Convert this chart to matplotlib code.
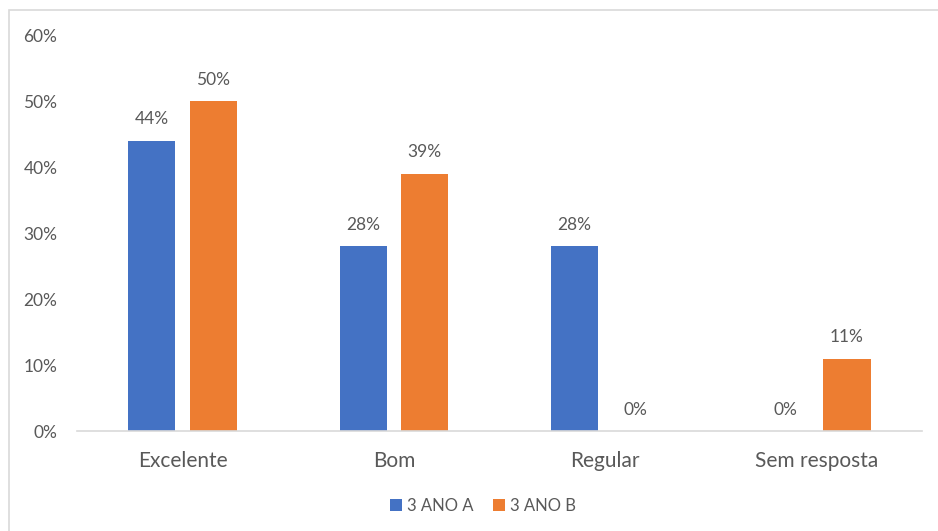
import matplotlib
matplotlib.use('Agg')
import matplotlib.pyplot as plt
import numpy as np
from matplotlib.patches import Rectangle

categories = ['Excelente', 'Bom', 'Regular', 'Sem resposta']
series_names = ['3 ANO A', '3 ANO B']
ano_a = [44, 28, 28, 0]
ano_b = [50, 39, 0, 11]
y_ticks = [0, 10, 20, 30, 40, 50, 60]

colors = ['#4472C4', '#ED7D31']
text_color = '#595959'

plt.rcParams['font.family'] = ['Lato', 'DejaVu Sans']

fig = plt.figure(figsize=(9.38, 5.31), dpi=100, facecolor='white')
ax = fig.add_axes([0.082, 0.188, 0.901, 0.746])

x = np.arange(len(categories))
width = 0.223
offset = 0.145

for vals, name, color, dx in zip([ano_a, ano_b], series_names, colors, [-offset, offset]):
    bars = ax.bar(x + dx, vals, width, color=color, label=name, zorder=2)
    for b, v in zip(bars, vals):
        ax.annotate(f'{v}%', (b.get_x() + b.get_width() / 2, v),
                    xytext=(0, 9.5), textcoords='offset points',
                    ha='center', va='bottom', fontsize=12.5, color=text_color)

ax.set_xlim(-0.5, len(categories) - 0.5)
ax.set_ylim(0, 60)
ax.set_yticks(y_ticks)
ax.set_yticklabels([f'{t}%' for t in y_ticks], fontsize=12.5, color=text_color)
ax.set_xticks(x)
ax.set_xticklabels(categories, fontsize=15, color=text_color)
ax.tick_params(axis='both', length=0)
ax.tick_params(axis='x', pad=14)
ax.tick_params(axis='y', pad=14)
for side in ['top', 'right', 'left']:
    ax.spines[side].set_visible(False)
ax.spines['bottom'].set_color('#D9D9D9')
ax.spines['bottom'].set_linewidth(1.2)

leg = fig.legend(loc='center', bbox_to_anchor=(0.515, 0.047), ncol=2, frameon=False,
                 fontsize=12, handlelength=0.7, handleheight=0.7, handletextpad=0.3,
                 columnspacing=1.2)
for t in leg.get_texts():
    t.set_color(text_color)

# outer chart frame, open on the right and bottom
fig.patches.append(Rectangle((0.0096, -0.02), 1.2, 1.001, transform=fig.transFigure,
                             fill=False, edgecolor='#D9D9D9', linewidth=1.2))

fig.savefig('out.png', dpi=100, facecolor='white')
